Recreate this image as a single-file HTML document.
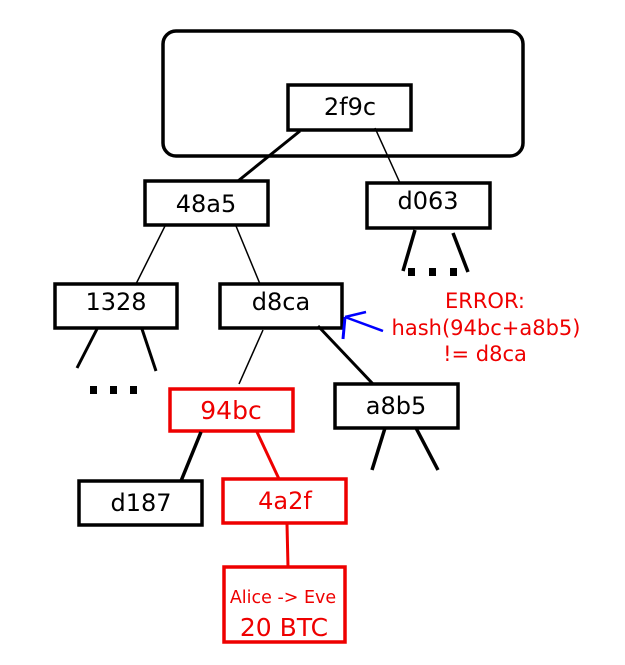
<!DOCTYPE html>
<html><head><meta charset="utf-8"><style>
html,body{margin:0;padding:0;background:#fff;}
svg{display:block;}
text{font-family:"DejaVu Sans","Liberation Sans",sans-serif;text-anchor:middle;}
</style></head><body>
<svg width="625" height="665" viewBox="0 0 625 665" xmlns="http://www.w3.org/2000/svg">
<rect x="163" y="31" width="360" height="125" rx="13" fill="none" stroke="#000" stroke-width="3.5"/>
<g fill="none" stroke="#000" stroke-width="3.5">
<rect x="288" y="85" width="123" height="45"/>
<rect x="145" y="181" width="123" height="44"/>
<rect x="367" y="183" width="123" height="45"/>
<rect x="55" y="284" width="122" height="44"/>
<rect x="220" y="284" width="122" height="44"/>
<rect x="335" y="384" width="123" height="44"/>
<rect x="79" y="481" width="123" height="44"/>
</g>
<g fill="none" stroke="#e00" stroke-width="3.5">
<rect x="170" y="389" width="123" height="42"/>
<rect x="223" y="479" width="123" height="44"/>
<rect x="224" y="567" width="121" height="75"/>
</g>
<g stroke="#000" fill="none">
<line x1="300" y1="131" x2="238" y2="181" stroke-width="3"/>
<line x1="375" y1="128" x2="400" y2="183" stroke-width="1.5"/>
<line x1="165" y1="226" x2="136" y2="284" stroke-width="1.5"/>
<line x1="236" y1="226" x2="260" y2="284" stroke-width="1.5"/>
<line x1="415" y1="230" x2="403" y2="271" stroke-width="3.5"/>
<line x1="453" y1="233" x2="468" y2="272" stroke-width="3.5"/>
<line x1="97" y1="329" x2="77" y2="368" stroke-width="3"/>
<line x1="142" y1="329" x2="156" y2="371" stroke-width="3"/>
<line x1="263" y1="330" x2="239" y2="384" stroke-width="1.5"/>
<line x1="318" y1="326" x2="373" y2="384" stroke-width="3"/>
<line x1="385" y1="428" x2="372" y2="470" stroke-width="3.5"/>
<line x1="416" y1="428" x2="438" y2="470" stroke-width="3.5"/>
<line x1="201" y1="432" x2="181" y2="481" stroke-width="3.5"/>
</g>
<g stroke="#e00" stroke-width="3">
<line x1="257" y1="432" x2="279" y2="479"/>
<line x1="287" y1="524" x2="288" y2="567"/>
</g>
<g fill="#000">
<rect x="90" y="386" width="7" height="8"/><rect x="110" y="386" width="7" height="8"/><rect x="130" y="386" width="7" height="8"/>
<rect x="408" y="268" width="7" height="8"/><rect x="429" y="268" width="7" height="8"/><rect x="450" y="268" width="7" height="8"/>
</g>
<g stroke="#00f" stroke-width="2.5" fill="none">
<line x1="383" y1="331" x2="345" y2="317"/>
<line x1="345" y1="317" x2="366" y2="312"/>
<line x1="345" y1="317" x2="343" y2="339" stroke-width="3"/>
</g>
<g font-size="24" fill="#000">
<text x="350" y="115">2f9c</text>
<text x="206" y="212">48a5</text>
<text x="428" y="209">d063</text>
<text x="116" y="310">1328</text>
<text x="281" y="310">d8ca</text>
<text x="396" y="414">a8b5</text>
<text x="141" y="511">d187</text>
</g>
<g fill="#e00">
<text x="231" y="419" font-size="25">94bc</text>
<text x="285" y="509" font-size="24">4a2f</text>
<text x="283" y="603" font-size="17.5">Alice -&gt; Eve</text>
<text x="284" y="636" font-size="25">20 BTC</text>
<text x="485" y="308" font-size="21">ERROR:</text>
<text x="486" y="335" font-size="21">hash(94bc+a8b5)</text>
<text x="485" y="361" font-size="21">!= d8ca</text>
</g>
</svg>
</body></html>
